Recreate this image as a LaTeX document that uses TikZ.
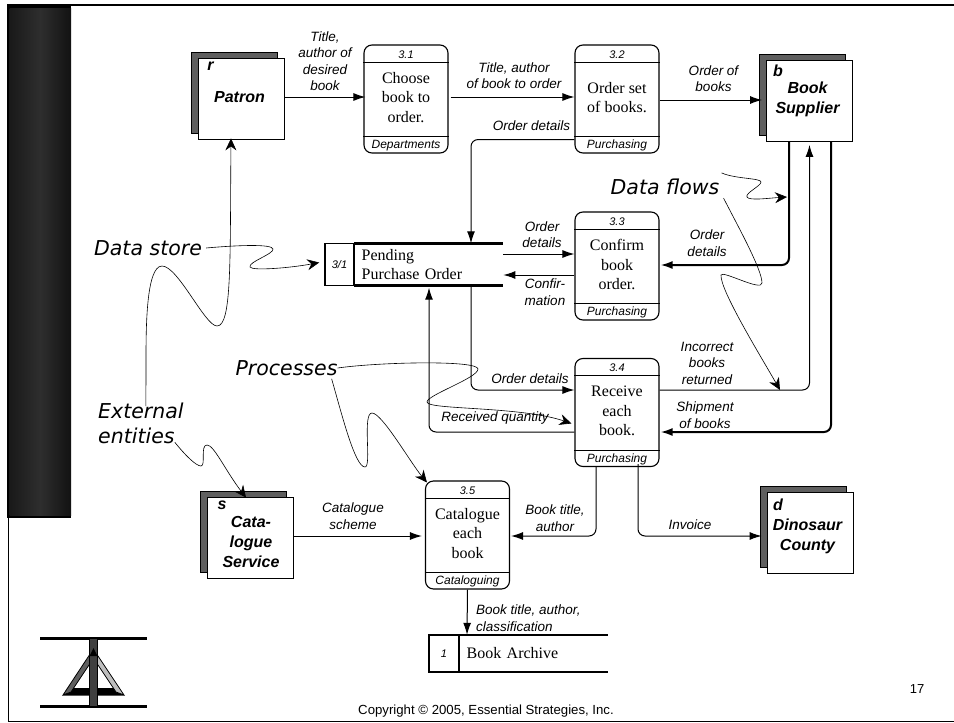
\documentclass[tikz,border=0pt]{standalone}
\usepackage{fontspec}
\usepackage{xcolor}
\setmainfont{Liberation Sans}
\newfontfamily\procfont{Liberation Serif}
\newfontfamily\notefont{DejaVu Sans}
\usetikzlibrary{arrows.meta}
\usetikzlibrary{positioning}

\definecolor{backgray}{HTML}{5F5F5F}

\tikzset{
	entback/.style={rectangle,draw=black,fill=backgray,line width=0.8pt,minimum width=86pt,minimum height=81pt,inner sep=0pt},
	entfront/.style={rectangle,draw=black,fill=white,line width=0.8pt,minimum width=86pt,minimum height=81pt,inner sep=0pt},
	procbox/.style={rectangle,rounded corners=8pt,draw=black,fill=white,line width=1.1pt,minimum width=84pt,minimum height=108pt,inner sep=0pt},
	storeid/.style={rectangle,draw=black,line width=1.5pt,inner sep=0pt,font=\fontsize{11}{13}\selectfont\itshape},
	storebody/.style={rectangle,anchor=west,inner xsep=7.5pt,inner ysep=0pt,align=left,font=\fontsize{16}{19}\selectfont\procfont},
	storeline/.style={line width=2.5pt},
	flow/.style={->,line width=1pt,rounded corners=7pt},
	thickflow/.style={->,line width=2pt,rounded corners=7pt},
	flowtext/.style={align=center,inner sep=0pt,font=\fontsize{13.5}{16.5}\selectfont\itshape},
	enttext/.style={align=center,inner sep=0pt,font=\fontsize{16}{20}\selectfont\bfseries\itshape},
	note/.style={align=left,inner sep=0pt,font=\fontsize{20.5}{25}\selectfont\notefont\itshape},
	squiggle/.style={-{Stealth[length=12pt,width=11pt,inset=4pt]},line width=0.6pt}
}

\begin{document}
\begin{tikzpicture}[x=1pt,y=-1pt,every path/.style={>={Latex[length=12pt,width=8pt]}}]
	\useasboundingbox (0,0) rectangle (954,723);

	% draw frame of the slide
	\draw[line width=2.5pt] (7,5) -- (954,5);
	\draw[line width=1.5pt] (954,721.5) -- (8.5,721.5) -- (8.5,518);

	% draw dark band
	\fill[black] (7,4) rectangle (71,518);
	\shade[left color=black!90,right color=black!93,middle color=black!82] (9.5,8) rectangle (71,515);

	% draw logo
	\fill[black] (40,636.5) rectangle (147,639.5);
	\fill[black] (40,704.5) rectangle (147,707.5);
	\fill[black] (63,695.5) -- (124,695.5) -- (114,688) -- (73,688) -- cycle;
	\draw[fill=backgray,line width=0.8pt] (63,695) -- (92.7,650) -- (93,659) -- (71,692) -- cycle;
	\draw[fill=black!25,line width=0.8pt] (124,695) -- (94,650) -- (94,659) -- (116,692) -- cycle;
	\draw[fill=black!75,line width=0.8pt] (89.5,638) rectangle (97.5,706);
	\fill[black] (93.5,648) -- (89.5,656) -- (97.5,656) -- cycle;

	% draw external entities
	\foreach \name/\xc/\yc in {r/241/98.5,b/809.5/101,s/250/537.5,d/810/532.5}
	{
		\node[entback,xshift=-7pt,yshift=6pt] (back-\name) at (\xc,\yc) {};
		\node[entfront] (ent-\name) at (\xc,\yc) {};
	}
	\node[enttext] (id-r) at (210.5,66) {r};
	\node[enttext] (id-b) at (778,71) {b};
	\node[enttext] (id-s) at (222,505) {s};
	\node[enttext] (id-d) at (778,505) {d};
	\node[enttext] (txt-r) at (239.5,97.5) {Patron};
	\node[enttext] (txt-b) at (807.5,99.5) {Book\\Supplier};
	\node[enttext] (txt-s) at (251,541.5) {Cata-\\logue\\Service};
	\node[enttext] (txt-d) at (807.5,536) {Dinosaur\\County};

	% draw processes
	\foreach \n/\xc/\yc/\num/\lane/\txt in {
		1/406/99/3.1/Departments/{Choose\\book to\\order.},
		2/617/99/3.2/Purchasing/{Order set\\of books.},
		3/617/266/3.3/Purchasing/{Confirm\\book\\order.},
		4/617/412.5/3.4/Purchasing/{Receive\\each\\book.},
		5/467.5/535/3.5/Cataloguing/{Catalogue\\each\\book}}
	{
		\node[procbox] (proc-\n) at (\xc,\yc) {};
		\draw[line width=1pt] ([yshift=-18pt]proc-\n.north west) -- ([yshift=-18pt]proc-\n.north east);
		\draw[line width=1pt] ([yshift=17pt]proc-\n.south west) -- ([yshift=17pt]proc-\n.south east);
		\node[inner sep=0pt,font=\fontsize{11}{13}\selectfont\itshape] (num-\n) at ([yshift=-10pt]proc-\n.north) {\num};
		\node[inner sep=0pt,font=\fontsize{12}{14}\selectfont\itshape] (lane-\n) at ([yshift=8pt]proc-\n.south) {\lane};
		\node[align=center,inner sep=0pt,font=\fontsize{16}{19.5}\selectfont\procfont] (body-\n) at ([yshift=1.5pt]proc-\n.center) {\txt};
	}

	% draw data stores
	\node[storeid,minimum width=29pt,minimum height=42pt] (id-31) at (339.5,264.5) {3/1};
	\node[storebody,text width=134pt,minimum height=42pt] (store-3) at (354,264.5) {Pending\\Purchase Order};
	\draw[storeline] (store-3.north west) -- (store-3.north east);
	\draw[storeline] (store-3.south west) -- (store-3.south east);
	\node[storeid,minimum width=30pt,minimum height=37pt] (id-1) at (444,653.5) {1};
	\node[storebody,text width=134pt,minimum height=37pt] (store-1) at (459,653.5) {Book Archive};
	\draw[storeline] (store-1.north west) -- (store-1.north east);
	\draw[storeline] (store-1.south west) -- (store-1.south east);

	% draw flows along the top
	\draw[flow] ([yshift=1.5pt]ent-r.east) -- ([xshift=2pt,yshift=2pt]proc-1.west);
	\draw[flow] ([xshift=2pt,yshift=2pt]proc-1.east) -- ([yshift=2pt]proc-2.west);
	\draw[flow] ([yshift=-1pt]proc-2.east) -- ([xshift=-4pt,yshift=1pt]ent-b.west);
	\draw[flow] ([yshift=14pt]proc-2.south west) -| ([xshift=117pt]store-3.north west);

	% draw flows around 3.3
	\draw[flow] ([yshift=10.5pt]store-3.east) -- ([yshift=12pt]proc-3.west);
	\draw[flow] ([yshift=-9pt]proc-3.west) -- ([yshift=-10.5pt]store-3.east);
	\draw[thickflow] ([xshift=-20.5pt]ent-b.south) |- ([xshift=1pt,yshift=1pt]proc-3.east);

	% draw flows around 3.4
	\draw[flow] ([yshift=22.5pt]proc-4.east) -| ([yshift=-3pt]ent-b.south);
	\draw[thickflow] ([xshift=21.5pt]ent-b.south) |- ([xshift=1pt,yshift=-19.5pt]proc-4.east);
	\draw[flow] ([xshift=117pt]store-3.south west) |- ([yshift=22.5pt]proc-4.west);
	\draw[flow] ([yshift=-19.5pt]proc-4.west) -| ([xshift=75pt,yshift=-2pt]store-3.south west);
	\draw[flow] ([xshift=-21pt]proc-4.south) |- ([xshift=1pt,yshift=-1pt]proc-5.east);
	\draw[flow] ([xshift=21pt,yshift=3pt]proc-4.south) |- ([xshift=-5pt,yshift=-3.5pt]ent-d.west);

	% draw flows around 3.5
	\draw[flow] ([yshift=1.5pt]ent-s.east) -- ([xshift=-3pt,yshift=-1pt]proc-5.west);
	\draw[flow] (proc-5.south) -- ([xshift=8pt]store-1.north west);

	% draw flow labels
	\node[flowtext] (lab-a) at (325,61) {Title,\\author of\\desired\\book};
	\node[flowtext] (lab-b) at (514,75.5) {Title, author\\of book to order};
	\node[flowtext] (lab-c) at (713.5,78.5) {Order of\\books};
	\node[flowtext] (lab-d) at (531.5,126) {Order details};
	\node[flowtext] (lab-e) at (542,234.5) {Order\\details};
	\node[flowtext] (lab-f) at (545,292) {Confir-\\mation};
	\node[flowtext] (lab-g) at (707,243) {Order\\details};
	\node[flowtext] (lab-h) at (707,363) {Incorrect\\books\\returned};
	\node[flowtext] (lab-i) at (705,415) {Shipment\\of books};
	\node[flowtext] (lab-j) at (530,379) {Order details};
	\node[flowtext] (lab-k) at (495,418) {Received quantity};
	\node[flowtext] (lab-l) at (353,516) {Catalogue\\scheme};
	\node[flowtext] (lab-m) at (555,518) {Book title,\\author};
	\node[flowtext] (lab-n) at (690,525) {Invoice};
	\node[flowtext,anchor=west,align=left] (lab-o) at (476,618) {Book title, author,\\classification};

	% draw hand written notes
	\node[note] (note-store) at (148,248) {Data store};
	\node[note] (note-flows) at (665,187) {Data flows};
	\node[note] (note-proc) at (286.5,368) {Processes};
	\node[note,anchor=north west] (note-ext) at (98,403) {External\\entities};

	% ends of the squiggles that stop on a line
	\coordinate (hit-flows) at (787,197);
	\coordinate (hit-return) at (780,390);

	% draw squiggles from the notes
	\draw[squiggle] ([xshift=4pt]note-store.east) .. controls (240,245) and (272,244) .. (273,249) .. controls (274,254) and (248,262) .. (250,267) .. controls (252,271) and (290,268) .. ([xshift=-5pt,yshift=2pt]id-31.west);
	\draw[squiggle] ([xshift=5pt,yshift=-3pt]note-ext.north) -- (146,360) .. controls (146,330) and (146,266) .. (162,266) .. controls (178,266) and (205,326) .. (217,326) .. controls (232,326) and (230,260) .. ([xshift=-10pt,yshift=1pt]ent-r.south);
	\draw[squiggle] ([xshift=-9pt,yshift=2pt]note-ext.south east) .. controls (185,455) and (196,466) .. (201,466) .. controls (206,466) and (200,445) .. (207,445) .. controls (214,445) and (225,470) .. ([xshift=-4pt,yshift=-1pt]ent-s.north);
	\draw[squiggle] ([xshift=-6pt,yshift=-3pt]note-proc.south east) .. controls (342,415) and (355,467) .. (365,467) .. controls (372,467) and (362,413) .. (372,413) .. controls (382,413) and (410,462) .. ([xshift=2pt,yshift=-2pt]proc-5.north west);
	\draw[squiggle] (note-proc.east) .. controls (380,362) and (478,360) .. (478,369) .. controls (478,378) and (427,395) .. (427,402) .. controls (427,410) and (520,406) .. ([xshift=-3pt,yshift=-11pt]proc-4.west);
	\draw[squiggle] ([xshift=2pt,yshift=6pt]note-flows.north east) .. controls (735,179) and (761,178) .. (761,182) .. controls (761,186) and (745,193) .. (747,197) .. controls (749,201) and (770,198) .. (hit-flows);
	\draw[squiggle] ([xshift=4pt,yshift=-3pt]note-flows.south east) .. controls (740,230) and (762,270) .. (762,283) .. controls (762,292) and (722,270) .. (721,275) .. controls (720,290) and (760,355) .. (hit-return);

	% draw footer
	\node[inner sep=0pt,font=\fontsize{13.2}{15}\selectfont] (copyright) at (486,711) {Copyright © 2005, Essential Strategies, Inc.};
	\node[inner sep=0pt,font=\fontsize{13}{15}\selectfont] (pagenum) at (917,689) {17};
\end{tikzpicture}
\end{document}
